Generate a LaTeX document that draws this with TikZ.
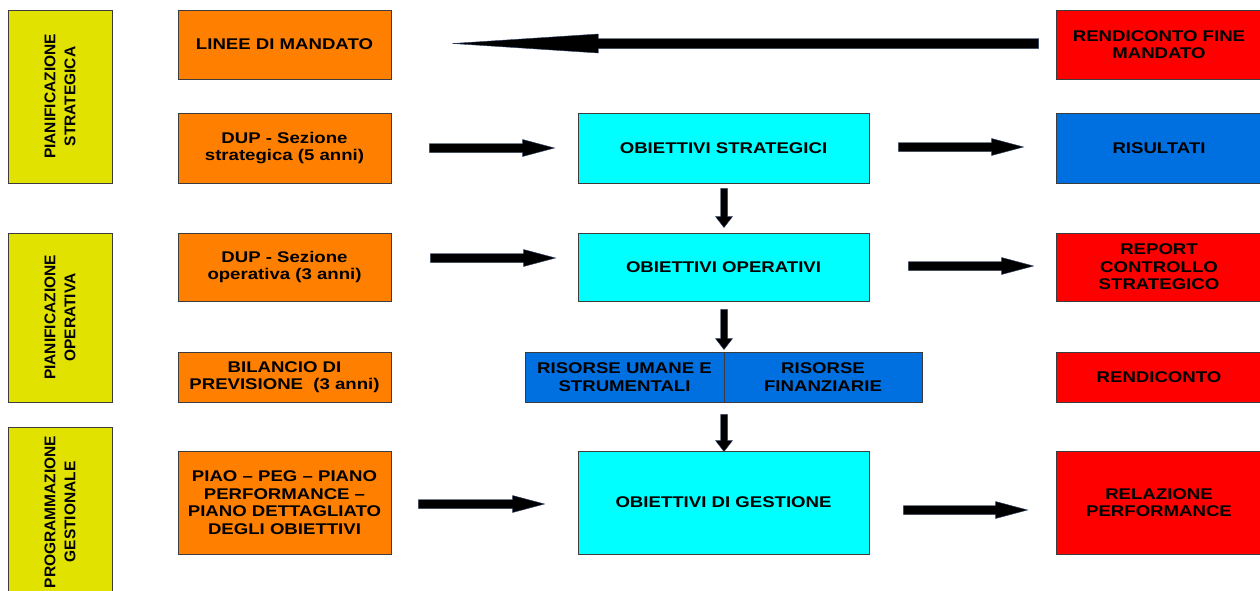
\documentclass[tikz,border=0pt]{standalone}
\usepackage{fontspec}
\setmainfont{Liberation Sans}[FakeStretch=1.2]
\newfontfamily\rotfont{Liberation Sans}
\usetikzlibrary{calc}
\definecolor{cYel}{RGB}{226,226,0}
\definecolor{cOra}{RGB}{255,128,0}
\definecolor{cCya}{RGB}{0,255,255}
\definecolor{cBlu}{RGB}{0,112,224}
\definecolor{cRed}{RGB}{255,0,0}
\definecolor{cBrd}{RGB}{60,60,60}
\definecolor{cArrEdge}{RGB}{40,60,100}
\tikzset{
  box/.style={draw=cBrd, line width=0.9pt, inner sep=0pt, align=center, text=black,
    font=\bfseries\fontsize{15.5}{17.5}\selectfont},
  rottext/.style={rotate=90, align=center, font=\rotfont\bfseries\fontsize{15.5}{20}\selectfont},
  orabox/.style={box, fill=cOra, minimum width=213pt},
  cyabox/.style={box, fill=cCya, minimum width=291pt},
  rgtbox/.style={box, minimum width=206pt},
  arrshape/.style={fill=black, draw=cArrEdge, line width=0.4pt, line join=miter}
}
% block arrows: #1 start, #2 end, #3 shaft half width, #4 head length, #5 head half width
\newcommand\arrRight[5]{\path[arrshape] let \p1=(#1), \p2=(#2) in
  (\x1,\y1+#3) -- (\x2-#4,\y1+#3) -- (\x2-#4,\y1+#5) -- (\x2,\y1)
  -- (\x2-#4,\y1-#5) -- (\x2-#4,\y1-#3) -- (\x1,\y1-#3) -- cycle;}
\newcommand\arrLeft[5]{\path[arrshape] let \p1=(#1), \p2=(#2) in
  (\x1,\y1+#3) -- (\x2+#4,\y1+#3) -- (\x2+#4,\y1+#5) -- (\x2,\y1)
  -- (\x2+#4,\y1-#5) -- (\x2+#4,\y1-#3) -- (\x1,\y1-#3) -- cycle;}
\newcommand\arrDown[5]{\path[arrshape] let \p1=(#1), \p2=(#2) in
  (\x1+#3,\y1) -- (\x1+#3,\y2+#4) -- (\x1+#5,\y2+#4) -- (\x1,\y2)
  -- (\x1-#5,\y2+#4) -- (\x1-#3,\y2+#4) -- (\x1-#3,\y1) -- cycle;}
\begin{document}
\begin{tikzpicture}[x=1pt,y=-1pt]
\useasboundingbox (0,0) rectangle (1260,590);
% side boxes
\node[box, fill=cYel, minimum width=104pt, minimum height=173pt] (ps) at (60,96.5) {};
\node[rottext] (pst) at (ps.center) {PIANIFICAZIONE\\STRATEGICA};
\node[box, fill=cYel, minimum width=104pt, minimum height=169pt] (po) at (60,317.5) {};
\node[rottext] (pot) at (po.center) {PIANIFICAZIONE\\OPERATIVA};
\node[box, fill=cYel, minimum width=104pt, minimum height=170pt] (pg) at (60,512) {};
\node[rottext] (pgt) at (pg.center) {PROGRAMMAZIONE\\GESTIONALE};
% orange column
\node[orabox, minimum height=69pt] (linee) at (284.5,44.5) {LINEE DI MANDATO};
\node[orabox, minimum height=70pt] (dups) at (284.5,148) {DUP - Sezione\\strategica (5 anni)};
\node[orabox, minimum height=68pt] (dupo) at (284.5,267) {DUP - Sezione\\operativa (3 anni)};
\node[orabox, minimum height=50pt] (bil) at (284.5,377) {BILANCIO DI\\PREVISIONE\ \ (3 anni)};
\node[orabox, minimum height=103pt] (piao) at (284.5,502.5) {PIAO -- PEG -- PIANO\\PERFORMANCE --\\PIANO DETTAGLIATO\\DEGLI OBIETTIVI};
% cyan column
\node[cyabox, minimum height=70pt] (obs) at (723.5,148) {OBIETTIVI STRATEGICI};
\node[cyabox, minimum height=68pt] (obo) at (723.5,267) {OBIETTIVI OPERATIVI};
\node[box, fill=cBlu, minimum width=199pt, minimum height=50pt] (risu) at (624.5,377) {RISORSE UMANE E\\STRUMENTALI};
\node[box, fill=cBlu, minimum width=198pt, minimum height=50pt] (risf) at (823,377) {RISORSE\\FINANZIARIE};
\node[cyabox, minimum height=103pt] (obg) at (723.5,502.5) {OBIETTIVI DI GESTIONE};
% right column
\node[rgtbox, fill=cRed, minimum height=69pt] (rfm) at (1159,44.5) {RENDICONTO FINE\\MANDATO};
\node[rgtbox, fill=cBlu, minimum height=70pt] (ris) at (1159,148) {RISULTATI};
\node[rgtbox, fill=cRed, minimum height=68pt] (rep) at (1159,267) {REPORT\\CONTROLLO\\STRATEGICO};
\node[rgtbox, fill=cRed, minimum height=50pt] (rend) at (1159,377) {RENDICONTO};
\node[rgtbox, fill=cRed, minimum height=103pt] (rel) at (1159,502.5) {RELAZIONE\\PERFORMANCE};
% arrows
\arrLeft{$(rfm.west)+(-17pt,1pt)$}{$(linee.east)+(61pt,1pt)$}{5pt}{146pt}{9.5pt}
\arrRight{$(dups.east)+(38pt,0pt)$}{$(obs.west)+(-23pt,0pt)$}{4.5pt}{32pt}{8.5pt}
\arrRight{$(obs.east)+(29pt,1pt)$}{$(ris.west)+(-32pt,1pt)$}{4.5pt}{32pt}{8.5pt}
\arrRight{$(dupo.east)+(39pt,9pt)$}{$(obo.west)+(-22pt,9pt)$}{4.5pt}{32pt}{8.5pt}
\arrRight{$(obo.east)+(39pt,1pt)$}{$(rep.west)+(-22pt,1pt)$}{4.5pt}{32pt}{8.5pt}
\arrRight{$(piao.east)+(27pt,-1.5pt)$}{$(obg.west)+(-33pt,-1.5pt)$}{4.5pt}{32pt}{8.5pt}
\arrRight{$(obg.east)+(34pt,-7.5pt)$}{$(rel.west)+(-28pt,-7.5pt)$}{4.5pt}{32pt}{8.5pt}
\arrDown{$(obs.south)+(0.5pt,-5pt)$}{$(obo.north)+(0.5pt,5pt)$}{3.5pt}{11pt}{8.5pt}
\arrDown{$(obo.south)+(0.5pt,-8pt)$}{$(obo.south |- risu.north)+(0.5pt,2pt)$}{3.5pt}{11pt}{8.5pt}
\arrDown{$(obo.south |- risu.south)+(0.5pt,-12pt)$}{$(obg.north)+(0.5pt,-1pt)$}{3.5pt}{11pt}{8.5pt}
\end{tikzpicture}
\end{document}
